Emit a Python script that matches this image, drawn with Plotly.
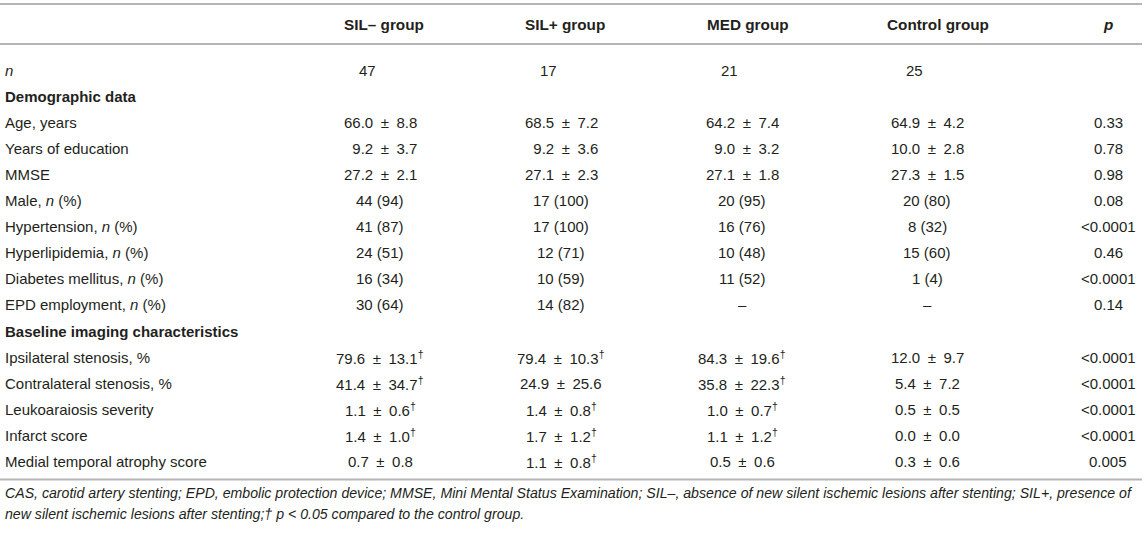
import plotly.graph_objects as go

W, H = 1146, 534

headers = ["SIL– group", "SIL+ group", "MED group", "Control group", "<i>p</i>"]

row_labels = [
    "<i>n</i>",
    "Demographic data",
    "Age, years",
    "Years of education",
    "MMSE",
    "Male, <i>n</i> (%)",
    "Hypertension, <i>n</i> (%)",
    "Hyperlipidemia, <i>n</i> (%)",
    "Diabetes mellitus, <i>n</i> (%)",
    "EPD employment, <i>n</i> (%)",
    "Baseline imaging characteristics",
    "Ipsilateral stenosis, %",
    "Contralateral stenosis, %",
    "Leukoaraiosis severity",
    "Infarct score",
    "Medial temporal atrophy score",
]
section_rows = [1, 10]

D = "<sup>†</sup>"
FS_ = "\u2007"  # figure space used as digit padding
sil_minus = ["47", "", "66.0 ± 8.8", FS_ + "9.2 ± 3.7", "27.2 ± 2.1", "44 (94)", "41 (87)",
             "24 (51)", "16 (34)", "30 (64)", "", "79.6 ± 13.1" + D,
             "41.4 ± 34.7" + D, "1.1 ± 0.6" + D, "1.4 ± 1.0" + D, "0.7 ± 0.8"]
sil_plus = ["17", "", "68.5 ± 7.2", FS_ + "9.2 ± 3.6", "27.1 ± 2.3", "17 (100)", "17 (100)",
            "12 (71)", "10 (59)", "14 (82)", "", "79.4 ± 10.3" + D,
            "24.9 ± 25.6", "1.4 ± 0.8" + D, "1.7 ± 1.2" + D, "1.1 ± 0.8" + D]
med = ["21", "", "64.2 ± 7.4", FS_ + "9.0 ± 3.2", "27.1 ± 1.8", "20 (95)", "16 (76)",
       "10 (48)", "11 (52)", "–", "", "84.3 ± 19.6" + D,
       "35.8 ± 22.3" + D, "1.0 ± 0.7" + D, "1.1 ± 1.2" + D, "0.5 ± 0.6"]
control = ["25", "", "64.9 ± 4.2", "10.0 ± 2.8", "27.3 ± 1.5", "20 (80)", "8 (32)",
           "15 (60)", "1 (4)", "–", "", "12.0 ± 9.7", "5.4 ± 7.2", "0.5 ± 0.5",
           "0.0 ± 0.0", "0.3 ± 0.6"]
p_values = ["", "", "0.33", "0.78", "0.98", "0.08", "&lt;0.0001", "0.46", "&lt;0.0001",
            "0.14", "", "&lt;0.0001", "&lt;0.0001", "&lt;0.0001", "&lt;0.0001", "0.005"]

footnote = [
    "CAS, carotid artery stenting; EPD, embolic protection device; MMSE, Mini Mental Status Examination; "
    "SIL–, absence of new silent ischemic lesions after stenting; SIL+, presence of",
    "new silent ischemic lesions after stenting;† p &lt; 0.05 compared to the control group.",
]

# layout constants
FONT = "Liberation Sans, Arial, Helvetica, sans-serif"
TXT = "#231f20"
LINE = "#b5b5b5"
col_x = [380, 561, 742, 927, 1108]
head_left = [342, 523, 705, 885]
label_x = 3
header_y = 24
row_y0 = 70
row_dy = 26.1
fs = 15
n_shift = -13

columns = [sil_minus, sil_plus, med, control, p_values]


def pm(s):
    return s.replace(" ± ", "\u2002±\u2002")


ann = []
for j, h in enumerate(headers):
    if j < 4:
        ann.append(dict(x=head_left[j], y=header_y, text=f"<b>{h}</b>", xanchor="left",
                        yanchor="middle", showarrow=False,
                        font=dict(size=15.3, color=TXT, family=FONT)))
    else:
        ann.append(dict(x=col_x[j], y=header_y, text=f"<b>{h}</b>", xanchor="center",
                        yanchor="middle", showarrow=False,
                        font=dict(size=15.3, color=TXT, family=FONT)))

for i, lab in enumerate(row_labels):
    y = row_y0 + i * row_dy
    t = f"<b>{lab}</b>" if i in section_rows else lab
    ann.append(dict(x=label_x, y=y, text=t, xanchor="left", yanchor="middle", showarrow=False,
                    font=dict(size=fs, color=TXT, family=FONT)))
    for j, col in enumerate(columns):
        v = col[i]
        if not v:
            continue
        ann.append(dict(x=col_x[j] + (n_shift if i == 0 else 0), y=y, text=pm(v),
                        xanchor="center", yanchor="middle", showarrow=False,
                        font=dict(size=fs, color=TXT, family=FONT)))

line_ys = [4, 44, row_y0 + 15 * row_dy + 18]
fn_y0 = line_ys[2] + 13
for k, line in enumerate(footnote):
    ann.append(dict(x=label_x, y=fn_y0 + k * 21, text=f"<i>{line}</i>", xanchor="left",
                    yanchor="middle", showarrow=False,
                    font=dict(size=14.15, color=TXT, family=FONT)))

shapes = [
    dict(type="line", x0=0, x1=1142, y0=y, y1=y, xref="x", yref="y",
         line=dict(color=LINE, width=2))
    for y in line_ys
]

fig = go.Figure()
fig.update_layout(
    width=W, height=H, margin=dict(l=0, r=0, t=0, b=0, pad=0),
    paper_bgcolor="white", plot_bgcolor="white",
    xaxis=dict(range=[0, W], visible=False, fixedrange=True),
    yaxis=dict(range=[H, 0], visible=False, fixedrange=True),
    annotations=ann, shapes=shapes, showlegend=False,
)
fig.write_html("out.html", config={"displayModeBar": False},
               post_script="document.body.style.margin='0';")
